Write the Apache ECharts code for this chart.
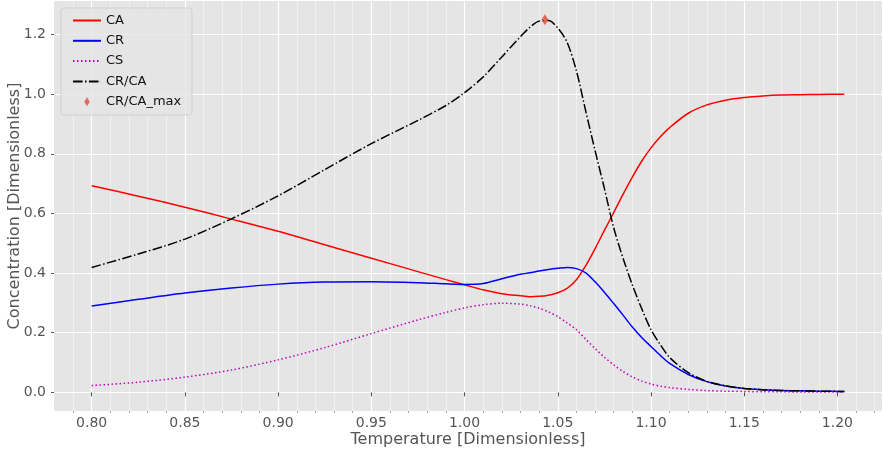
<!DOCTYPE html>
<html>
<head>
<meta charset="utf-8">
<script src="https://cdn.jsdelivr.net/npm/echarts@6/dist/echarts.min.js"></script>
<style>
  html, body { margin: 0; padding: 0; background: #ffffff; }
  #chart { width: 883px; height: 455px; }
</style>
</head>
<body>
<div id="chart"></div>
<script>
// Reactor temperature sweep: concentrations of A, R, S and the selectivity ratio R/A
const temperature = [0.80, 0.825, 0.85, 0.875, 0.90, 0.925, 0.95, 0.975, 0.99, 1.00, 1.01, 1.02, 1.03, 1.035, 1.04, 1.045,
  1.05, 1.055, 1.06, 1.065, 1.07, 1.075, 1.08, 1.085, 1.09, 1.095, 1.10, 1.105, 1.11, 1.12, 1.13, 1.14, 1.15,
  1.16, 1.17, 1.18, 1.19, 1.2037];
const caValues = [0.693, 0.658, 0.621, 0.581, 0.540, 0.495, 0.450, 0.405, 0.378, 0.361, 0.344, 0.331, 0.324, 0.321, 0.322, 0.326,
  0.334, 0.349, 0.378, 0.425, 0.482, 0.543, 0.603, 0.664, 0.722, 0.775, 0.820, 0.857, 0.888, 0.936, 0.964, 0.980, 0.989,
  0.994, 0.997, 0.998, 0.999, 1.000];
const crValues = [0.290, 0.312, 0.333, 0.350, 0.363, 0.370, 0.371, 0.368, 0.364, 0.362, 0.365, 0.381, 0.396, 0.401, 0.407, 0.412,
  0.416, 0.419, 0.415, 0.401, 0.371, 0.336, 0.298, 0.259, 0.219, 0.184, 0.154, 0.124, 0.097, 0.060, 0.036, 0.021, 0.013,
  0.009, 0.006, 0.005, 0.004, 0.003];
const csValues = [0.023, 0.034, 0.051, 0.075, 0.109, 0.150, 0.197, 0.243, 0.268, 0.283, 0.294, 0.299, 0.296, 0.291, 0.282, 0.270,
  0.254, 0.233, 0.210, 0.178, 0.147, 0.118, 0.092, 0.070, 0.052, 0.038, 0.028, 0.021, 0.016, 0.010, 0.006, 0.004, 0.003,
  0.002, 0.002, 0.001, 0.001, 0.001];
const ratioValues = [0.419, 0.464, 0.514, 0.582, 0.659, 0.747, 0.834, 0.912, 0.962, 1.005, 1.058, 1.125, 1.193, 1.224, 1.245, 1.247,
  1.222, 1.174, 1.078, 0.943, 0.811, 0.684, 0.552, 0.450, 0.360, 0.281, 0.210, 0.160, 0.117, 0.066, 0.037, 0.022, 0.013,
  0.009, 0.006, 0.005, 0.004, 0.003];
const ratioMax = [1.0431, 1.250];

const xTicks = [0.80, 0.85, 0.90, 0.95, 1.00, 1.05, 1.10, 1.15, 1.20];
const xMinorTicks = [0.79, 0.81, 0.82, 0.83, 0.84, 0.86, 0.87, 0.88, 0.89, 0.91, 0.92, 0.93, 0.94, 0.96, 0.97, 0.98, 0.99,
  1.01, 1.02, 1.03, 1.04, 1.06, 1.07, 1.08, 1.09, 1.11, 1.12, 1.13, 1.14, 1.16, 1.17, 1.18, 1.19, 1.21, 1.22];
const yTicks = [0.0, 0.2, 0.4, 0.6, 0.8, 1.0, 1.2];

const X_MIN = 0.7798, X_MAX = 1.2239;
const Y_MIN = -0.0625, Y_MAX = 1.3125;

const FONT = 'DejaVu Sans';
const pairs = (vals) => temperature.map((t, i) => [t, vals[i]]);
const THIN_DIAMOND = 'path://M0,-5L3,0L0,5L-3,0Z';

const chart = echarts.init(document.getElementById('chart'), null, { renderer: 'canvas' });

chart.setOption({
  animation: false,
  backgroundColor: '#ffffff',
  grid: {
    left: 54, right: 1, top: 1, bottom: 44,
    outerBoundsMode: 'none',
    containLabel: false,
    show: true, backgroundColor: '#E5E5E5', borderWidth: 0
  },
  graphic: [{
    type: 'rect',
    z: 3,
    shape: { x: 61, y: 8, width: 131, height: 107, r: 3 },
    style: { fill: 'rgba(229,229,229,0.8)', stroke: '#cfcfcf', lineWidth: 1 }
  }],
  legend: {
    orient: 'vertical',
    left: 67,
    top: 9,
    z: 5,
    itemWidth: 28,
    itemHeight: 9,
    itemGap: 7.3,
    textStyle: { fontFamily: FONT, fontSize: 13, color: '#111' },
    data: [
      { name: 'CA', itemStyle: { opacity: 0 } },
      { name: 'CR', itemStyle: { opacity: 0 } },
      { name: 'CS', itemStyle: { opacity: 0 } },
      { name: 'CR/CA', itemStyle: { opacity: 0 } },
      { name: 'CR/CA_max', icon: THIN_DIAMOND }
    ]
  },
  xAxis: [{
    type: 'value',
    min: X_MIN,
    max: X_MAX,
    name: 'Temperature [Dimensionless]',
    nameLocation: 'middle',
    nameGap: 21,
    nameMoveOverlap: false,
    nameTextStyle: { fontFamily: FONT, fontSize: 16, color: '#555555' },
    axisLine: { show: false },
    axisTick: { show: true, length: 4, customValues: xTicks, lineStyle: { color: '#555555', width: 1 } },
    axisLabel: {
      customValues: xTicks, margin: 5,
      fontFamily: FONT, fontSize: 14, color: '#555555',
      formatter: (v) => v.toFixed(2)
    },
    splitLine: { show: true, lineStyle: { color: '#ffffff', width: 1.2 } }
  }, {
    type: 'value',
    min: X_MIN,
    max: X_MAX,
    position: 'bottom',
    axisLine: { show: false },
    axisTick: { show: true, length: 2, customValues: xMinorTicks, lineStyle: { color: '#8a8a8a', width: 0.8 } },
    axisLabel: { show: false },
    splitLine: { show: true, lineStyle: { color: 'rgba(255,255,255,0.45)', width: 1 } }
  }],
  yAxis: {
    type: 'value',
    min: Y_MIN,
    max: Y_MAX,
    name: 'Concentration [Dimensionless]',
    nameLocation: 'middle',
    nameGap: 31,
    nameMoveOverlap: false,
    nameTextStyle: { fontFamily: FONT, fontSize: 16, color: '#555555' },
    axisLine: { show: false },
    axisTick: { show: true, length: 3, customValues: yTicks, lineStyle: { color: '#555555', width: 1 } },
    axisLabel: {
      customValues: yTicks, margin: 8,
      fontFamily: FONT, fontSize: 14, color: '#555555',
      formatter: (v) => v.toFixed(1)
    },
    splitLine: { show: true, lineStyle: { color: '#ffffff', width: 1.2 } }
  },
  series: [
    {
      name: 'CA', type: 'line', data: pairs(caValues), showSymbol: false, symbol: 'none', smooth: 0.3,
      color: '#FF0000', lineStyle: { color: '#FF0000', width: 1.5 }, z: 3
    },
    {
      name: 'CR', type: 'line', data: pairs(crValues), showSymbol: false, symbol: 'none', smooth: 0.3,
      color: '#0000FF', lineStyle: { color: '#0000FF', width: 1.5 }, z: 3
    },
    {
      name: 'CS', type: 'line', data: pairs(csValues), showSymbol: false, symbol: 'none', smooth: 0.3,
      color: '#BF00BF', lineStyle: { color: '#BF00BF', width: 1.5, type: [1.5, 2.5] }, z: 3
    },
    {
      name: 'CR/CA', type: 'line', data: pairs(ratioValues), showSymbol: false, symbol: 'none', smooth: 0.3,
      color: '#000000', lineStyle: { color: '#000000', width: 1.5, type: [9.6, 2.4, 1.5, 2.4] }, z: 3
    },
    {
      name: 'CR/CA_max', type: 'scatter', data: [ratioMax],
      symbol: THIN_DIAMOND, symbolSize: [7, 11], symbolKeepAspect: false,
      color: '#E24A33', itemStyle: { color: '#E24A33' }, z: 4
    }
  ]
});
</script>
</body>
</html>
